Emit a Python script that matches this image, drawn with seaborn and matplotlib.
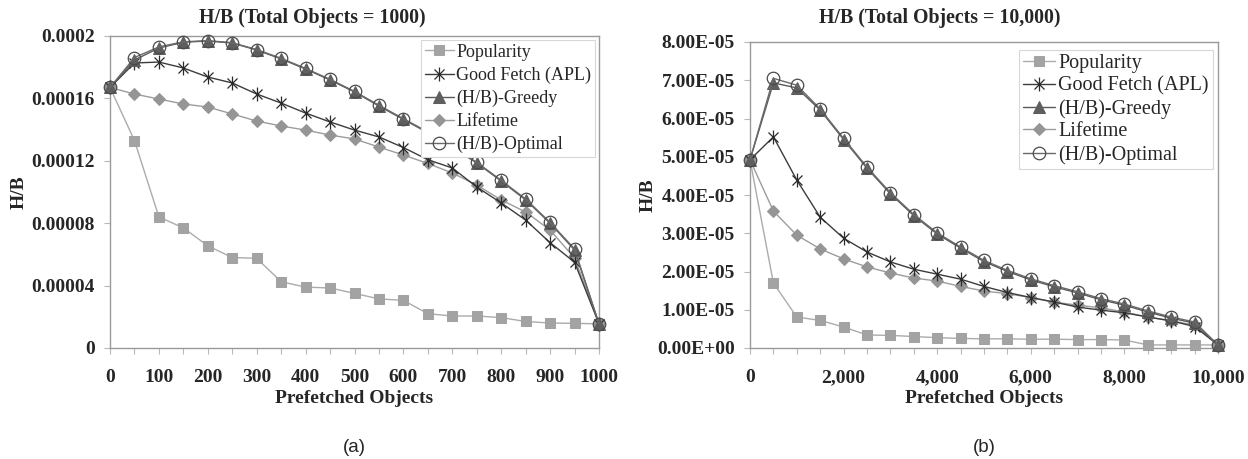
import numpy as np
import pandas as pd
import matplotlib
matplotlib.use("Agg")
import matplotlib.pyplot as plt
from matplotlib.path import Path
from matplotlib.ticker import FixedLocator, FuncFormatter, MultipleLocator
import seaborn as sns

# ---------------- data ----------------
series_names = ["Popularity", "Good Fetch (APL)", "(H/B)-Greedy", "Lifetime", "(H/B)-Optimal"]

x_a = list(range(0, 1001, 50))
pop_a = [1.67e-4, 1.33e-4, 8.4e-5, 7.7e-5, 6.55e-5, 5.8e-5, 5.75e-5, 4.25e-5, 3.9e-5, 3.85e-5,
         3.5e-5, 3.15e-5, 3.05e-5, 2.2e-5, 2.05e-5, 2.05e-5, 1.95e-5, 1.7e-5, 1.6e-5, 1.58e-5, 1.55e-5]
gf_a = [1.67e-4, 1.827e-4, 1.833e-4, 1.795e-4, 1.737e-4, 1.699e-4, 1.628e-4, 1.57e-4, 1.506e-4, 1.449e-4,
        1.397e-4, 1.353e-4, 1.285e-4, 1.207e-4, 1.154e-4, 1.032e-4, 9.3e-5, 8.2e-5, 6.75e-5, 5.5e-5, 1.55e-5]
greedy_a = [1.67e-4, 1.846e-4, 1.923e-4, 1.96e-4, 1.968e-4, 1.955e-4, 1.91e-4, 1.853e-4, 1.788e-4, 1.718e-4,
            1.641e-4, 1.551e-4, 1.465e-4, 1.38e-4, 1.285e-4, 1.186e-4, 1.07e-4, 9.49e-5, 8.0e-5, 6.28e-5, 1.55e-5]
life_a = [1.67e-4, 1.628e-4, 1.596e-4, 1.564e-4, 1.545e-4, 1.5e-4, 1.455e-4, 1.423e-4, 1.397e-4, 1.365e-4,
          1.34e-4, 1.288e-4, 1.237e-4, 1.183e-4, 1.122e-4, 1.045e-4, 9.49e-5, 8.72e-5, 7.56e-5, 5.77e-5, 1.55e-5]
opt_a = [1.67e-4, 1.862e-4, 1.93e-4, 1.963e-4, 1.97e-4, 1.957e-4, 1.913e-4, 1.857e-4, 1.792e-4, 1.722e-4,
         1.645e-4, 1.556e-4, 1.47e-4, 1.385e-4, 1.29e-4, 1.19e-4, 1.075e-4, 9.55e-5, 8.05e-5, 6.35e-5, 1.55e-5]

x_b = list(range(0, 10001, 500))
pop_b = [4.92e-5, 1.7e-5, 8.1e-6, 7.2e-6, 5.5e-6, 3.4e-6, 3.3e-6, 3.0e-6, 2.7e-6, 2.5e-6,
         2.4e-6, 2.4e-6, 2.3e-6, 2.3e-6, 2.2e-6, 2.2e-6, 2.1e-6, 8e-7, 8e-7, 8e-7, 8e-7]
gf_b = [4.92e-5, 5.52e-5, 4.39e-5, 3.42e-5, 2.87e-5, 2.51e-5, 2.25e-5, 2.06e-5, 1.93e-5, 1.8e-5,
        1.61e-5, 1.45e-5, 1.32e-5, 1.2e-5, 1.07e-5, 9.9e-6, 9.2e-6, 8.1e-6, 7.1e-6, 5.6e-6, 8e-7]
greedy_b = [4.92e-5, 6.93e-5, 6.8e-5, 6.22e-5, 5.45e-5, 4.7e-5, 4.03e-5, 3.46e-5, 2.98e-5, 2.61e-5,
            2.26e-5, 2.0e-5, 1.78e-5, 1.6e-5, 1.44e-5, 1.26e-5, 1.12e-5, 9.4e-6, 7.8e-6, 6.5e-6, 8e-7]
life_b = [4.92e-5, 3.58e-5, 2.95e-5, 2.59e-5, 2.33e-5, 2.12e-5, 1.96e-5, 1.83e-5, 1.75e-5, 1.61e-5,
          1.49e-5, 1.42e-5, 1.32e-5, 1.2e-5, 1.12e-5, 1.05e-5, 9.4e-6, 8.1e-6, 7.1e-6, 6.0e-6, 8e-7]
opt_b = [4.92e-5, 7.05e-5, 6.87e-5, 6.25e-5, 5.48e-5, 4.73e-5, 4.06e-5, 3.49e-5, 3.01e-5, 2.64e-5,
         2.29e-5, 2.03e-5, 1.81e-5, 1.63e-5, 1.47e-5, 1.29e-5, 1.15e-5, 9.7e-6, 8.1e-6, 6.8e-6, 8e-7]

title_a = "H/B (Total Objects = 1000)"
title_b = "H/B (Total Objects = 10,000)"
xlabel = "Prefetched Objects"
ylabel = "H/B"
yticks_a = [0, 0.00004, 0.00008, 0.00012, 0.00016, 0.0002]
yticklabels_a = ["0", "0.00004", "0.00008", "0.00012", "0.00016", "0.0002"]
yticks_b = [0, 1e-5, 2e-5, 3e-5, 4e-5, 5e-5, 6e-5, 7e-5, 8e-5]
yticklabels_b = ["0.00E+00", "1.00E-05", "2.00E-05", "3.00E-05", "4.00E-05",
                 "5.00E-05", "6.00E-05", "7.00E-05", "8.00E-05"]

# ---------------- style ----------------
sns.set_style("white")
plt.rcParams["font.family"] = ["Liberation Serif", "DejaVu Serif"]

star = Path([(0, -1), (0, 1), (-0.72, -0.72), (0.72, 0.72), (-0.72, 0.72), (0.72, -0.72)],
            [Path.MOVETO, Path.LINETO, Path.MOVETO, Path.LINETO, Path.MOVETO, Path.LINETO])

styles = {
    "Popularity": dict(color="#ababab", marker="s", markersize=7.5, markerfacecolor="#a3a3a3",
                       markeredgecolor="#a3a3a3", lw=1.0, zorder=3),
    "Good Fetch (APL)": dict(color="#3c3c3c", marker=star, markersize=10, markerfacecolor="none",
                             markeredgecolor="#2a2a2a", markeredgewidth=0.9, lw=1.0, zorder=4),
    "(H/B)-Greedy": dict(color="#5a5a5a", marker="^", markersize=8.5, markerfacecolor="#5e5e5e",
                         markeredgecolor="#5e5e5e", lw=1.0, zorder=5),
    "Lifetime": dict(color="#9c9c9c", marker="D", markersize=6.5, markerfacecolor="#959595",
                     markeredgecolor="#959595", lw=1.0, zorder=3.5),
    "(H/B)-Optimal": dict(color="#6a6a6a", marker="o", markersize=9, markerfacecolor="none",
                          markeredgecolor="#4a4a4a", markeredgewidth=0.9, lw=1.0, zorder=6),
}

fig = plt.figure(figsize=(12.48, 4.59), dpi=100)
W, H = 1248, 459
ax_a = fig.add_axes([110 / W, 1 - 348 / H, 489 / W, 312 / H])
ax_b = fig.add_axes([750 / W, 1 - 348 / H, 468 / W, 306 / H])

panels = [
    (ax_a, x_a, [pop_a, gf_a, greedy_a, life_a, opt_a], 1000, 0.0002, yticks_a, yticklabels_a,
     100, 50, lambda v, p: f"{int(v)}", (0.992, 0.987), 312 / W, title_a, "(a)", 13, 0.33),
    (ax_b, x_b, [pop_b, gf_b, greedy_b, life_b, opt_b], 10000, 8e-5, yticks_b, yticklabels_b,
     2000, 500, lambda v, p: f"{int(v):,}", (0.989, 0.974), 940 / W, title_b, "(b)", 14.5, 0.17),
]

for (ax, xs, ys_list, xmax, ymax, yt, ytl, xmaj, xmin_, xfmt, anchor, tx, title, cap,
     lfs, lsp) in panels:
    for name, ys in zip(series_names, ys_list):
        df = pd.DataFrame({"x": xs, "y": ys})
        st = dict(styles[name])
        z = st.pop("zorder")
        sns.lineplot(data=df, x="x", y="y", ax=ax, label=name, clip_on=False, zorder=z, **st)
    ax.set_xlim(0, xmax)
    ax.set_ylim(0, ymax)
    ax.set_yticks(yt)
    ax.set_yticklabels(ytl)
    ax.xaxis.set_major_locator(MultipleLocator(xmaj))
    ax.xaxis.set_minor_locator(MultipleLocator(xmin_))
    ax.xaxis.set_major_formatter(FuncFormatter(xfmt))
    for sp in ax.spines.values():
        sp.set_color("#9a9a9a")
        sp.set_linewidth(1.0)
    ax.tick_params(axis="both", which="both", direction="out", length=4, width=0.8,
                   color="#b8b8b8", labelsize=14)
    ax.tick_params(axis="x", which="both", pad=11, bottom=True)
    ax.tick_params(axis="y", which="both", pad=7, left=True)
    for lab in ax.get_xticklabels() + ax.get_yticklabels():
        lab.set_fontweight("bold")
    ax.set_xlabel(xlabel, fontsize=14, fontweight="bold", labelpad=3)
    ax.set_ylabel(ylabel, fontsize=14, fontweight="bold")
    leg = ax.legend(loc="upper right", bbox_to_anchor=anchor, borderaxespad=0, fontsize=lfs,
                    frameon=True, fancybox=False, edgecolor="#d8d8d8", framealpha=1,
                    handlelength=1.6, handletextpad=0.15, labelspacing=lsp, borderpad=0.2)
    leg.get_frame().set_linewidth(0.8)
    leg.set_zorder(10)
    fig.text(tx, 1 - 18 / H, title, ha="center", va="center", fontsize=14.3, fontweight="bold")
    pos = ax.get_position()
    fig.text((pos.x0 + pos.x1) / 2, 1 - 448 / H, cap, ha="center", va="center",
             fontsize=13.5, family=["Liberation Sans", "DejaVu Sans"])

ax_a.yaxis.set_label_coords(-0.168, 0.5)
ax_b.yaxis.set_label_coords(-0.2, 0.5)

fig.savefig("out.png", dpi=100)
